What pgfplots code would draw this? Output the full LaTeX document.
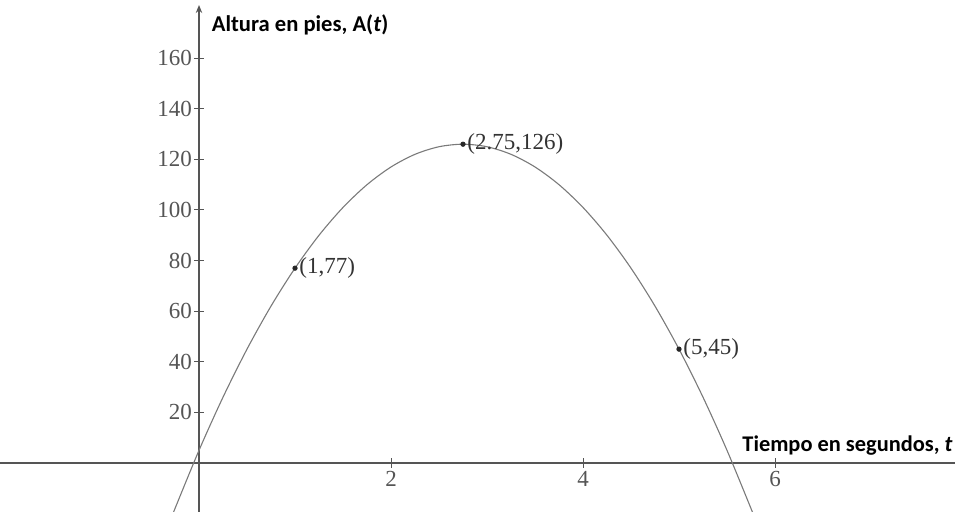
\documentclass[border=0pt]{standalone}
\usepackage{pgfplots}
\pgfplotsset{compat=1.18}
\usepackage{fontspec}
\setmainfont{Liberation Serif}
\newfontfamily\labelfont{Carlito}
\usetikzlibrary{arrows.meta}

\definecolor{axisgray}{HTML}{555555}
\definecolor{curvegray}{HTML}{7A7A7A}
\definecolor{ticktext}{HTML}{555555}
\definecolor{pointtext}{HTML}{333333}

\begin{document}
\begin{tikzpicture}
\begin{axis}[
  scale only axis,
  width=477.5pt, height=256pt,
  xmin=-2.073, xmax=7.875,
  ymin=-19.37, ymax=183,
  axis lines=middle,
  axis line style={draw=axisgray, line width=1pt},
  x axis line style={-},
  y axis line style={-{Stealth[length=4pt,width=3.2pt]}, shorten >=2.5pt},
  xtick={2,4,6},
  ytick={20,40,...,160},
  tick align=center,
  major tick length=5pt,
  tick style={draw=axisgray, line width=0.5pt},
  /pgf/number format/assume math mode=true,
  tick label style={font=\fontsize{11.5}{13}\selectfont, text=ticktext},
  xticklabel style={yshift=2pt},
  yticklabel style={xshift=2.5pt},
  clip=true,
]
  % Height of the ball: A(t) = -16(t - 2.75)^2 + 126, tabulated
  \addplot[curvegray, line width=0.55pt, smooth] coordinates {
    (-0.30,-22.84) (-0.25,-18) (0,5) (0.25,26) (0.5,45) (0.75,62)
    (1,77) (1.25,90) (1.5,101) (1.75,110) (2,117) (2.25,122)
    (2.5,125) (2.75,126) (3,125) (3.25,122) (3.5,117) (3.75,110)
    (4,101) (4.25,90) (4.5,77) (4.75,62) (5,45) (5.25,26)
    (5.5,5) (5.75,-18) (5.80,-22.84)
  };
  % Marked points with their labels
  \addplot[only marks, mark=*, mark size=1.1pt, color=black!85,
    point meta=explicit symbolic,
    nodes near coords,
    nodes near coords style={anchor=west, inner sep=1pt, xshift=1pt,
      font=\fontsize{11.5}{13}\selectfont, text=pointtext}]
    coordinates {
      (1,77) [(1,77)]
      (2.75,126) [(2.75,126)]
      (5,45) [(5,45)]
    };
  \node[anchor=west, inner sep=0pt, font=\labelfont\bfseries\fontsize{11.3}{13}\selectfont]
    at (axis cs:0.13,173) {Altura en pies, A(\textit{t})};
  \node[anchor=base east, inner sep=0pt, font=\labelfont\bfseries\fontsize{11.2}{13}\selectfont]
    at (axis cs:7.855,4.4) {Tiempo en segundos, \textit{t}};
  \coordinate (sw) at (rel axis cs:0,0);
  \coordinate (ne) at (rel axis cs:1,1);
\end{axis}
\pgfresetboundingbox
\path (sw) rectangle (ne);
\end{tikzpicture}
\end{document}
